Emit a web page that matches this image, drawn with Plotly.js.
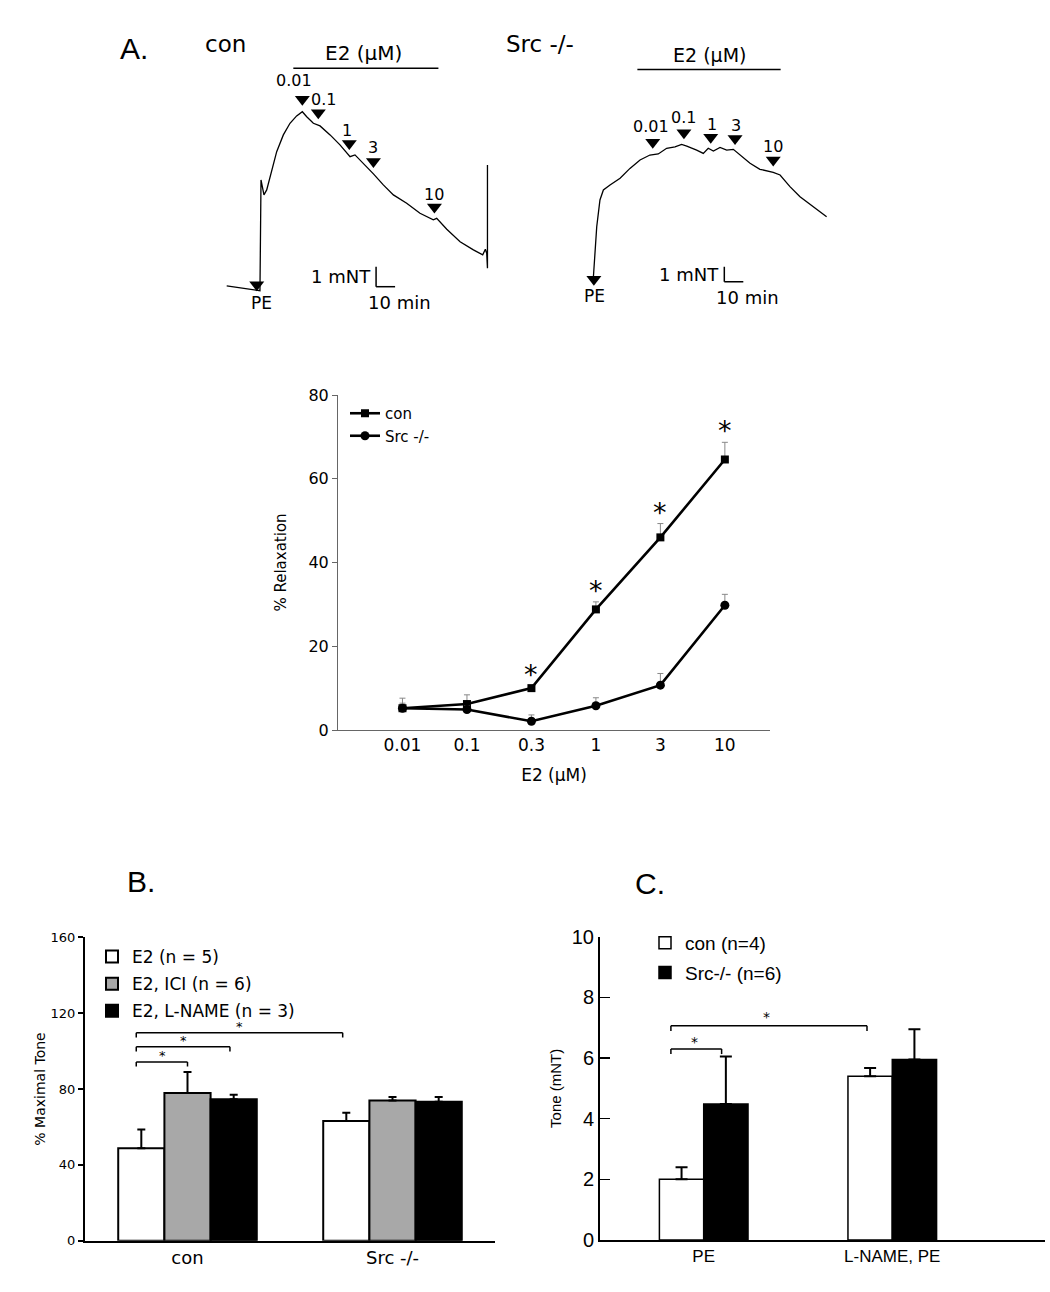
<!DOCTYPE html>
<html><head><meta charset="utf-8">
<script src="https://cdn.plot.ly/plotly-3.0.1.min.js"></script>
<style>html,body{margin:0;padding:0;background:#fff}#chart{width:1050px;height:1292px}</style>
</head><body><div id="chart"></div>
<script>
// ---------- Panel A: tension recordings (time in min, tension in mN) ----------
const conTime    = [0, 7.0, 15.8, 17.5, 18.05, 18.7, 19.6, 21.05, 23.7, 26.3, 29.8, 33.3, 36.8, 39.8, 42.1, 45.6, 49.1, 54.4, 59.6, 64.9, 67.5, 71.9, 77.2, 82.4, 87.7, 94.7, 101.7, 108.7, 110.5, 115.8, 122.8, 129.8, 134.7, 136.1, 136.8, 137.2, 137.2];
const conTension = [0.24, 0.15, 0, 0, 5.54, 5.2, 4.79, 5.04, 6.04, 6.95, 7.79, 8.37, 8.74, 8.95, 8.7, 8.37, 8.24, 7.79, 7.29, 6.7, 6.79, 6.37, 5.84, 5.29, 4.79, 4.37, 3.87, 3.54, 3.62, 3.07, 2.45, 2.04, 1.79, 2.07, 1.87, 1.12, 6.29];
const srcTime    = [0, 0.5, 1.8, 3.5, 5.3, 8.8, 14.1, 19.3, 24.6, 29.8, 34.2, 38.6, 43.0, 46.5, 49.2, 54.4, 57.9, 60.5, 63.2, 66.7, 70.2, 73.7, 77.2, 82.5, 87.7, 94.7, 98.3, 103.5, 108.8, 115.8, 122.8];
const srcTension = [0, 1.22, 3.44, 5.22, 5.89, 6.22, 6.67, 7.33, 7.89, 8.22, 8.29, 8.67, 8.77, 8.93, 8.82, 8.55, 8.33, 8.67, 8.49, 8.73, 8.55, 8.6, 8.22, 7.67, 7.27, 7.07, 6.89, 6.11, 5.44, 4.77, 4.11];
const doseLabels   = ['0.01', '0.1', '1', '3', '10'];
const conDoseTimes = [39.8, 48.2, 64.5, 77.2, 109.3];
const srcDoseTimes = [31.3, 47.7, 61.8, 74.6, 94.7];
const conPETime = 15.8, srcPETime = 0.3;
const conE2Period = [35.05, 111.4];
const srcE2Period = [23.2, 98.6];

// ---------- Concentration-response ----------
const e2Conc      = ['0.01', '0.1', '0.3', '1', '3', '10'];
const conRelax    = [5.2, 6.2, 10.0, 28.8, 46.0, 64.6];
const conRelaxErr = [2.4, 2.2, 0.5, 1.8, 3.3, 4.1];
const srcRelax    = [5.2, 4.9, 2.1, 5.8, 10.7, 29.8];
const srcRelaxErr = [1.2, 0.8, 1.5, 1.9, 2.8, 2.6];
const sigConc     = ['0.3', '1', '3', '10'];

// ---------- Panel B ----------
const groupsB     = ['con', 'Src -/-'];
const e2Tone      = [48.7, 63.1];
const e2ToneErr   = [10.0, 4.4];
const iciTone     = [77.9, 73.9];
const iciToneErr  = [11.0, 1.9];
const lnameTone   = [74.6, 73.3];
const lnameToneErr= [2.4, 2.5];

// ---------- Panel C ----------
const groupsC   = ['PE', 'L-NAME, PE'];
const conTone   = [2.0, 5.4];
const conToneErr= [0.4, 0.27];
const srcTone   = [4.48, 5.95];
const srcToneErr= [1.57, 1.0];

// ---------- helpers ----------
const W = 1050, H = 1292;
const px = x => x / W;
const py = y => 1 - y / H;
function interp(ts, vs, t) {
  for (let i = 1; i < ts.length; i++) {
    if (ts[i] >= t) { const d = ts[i] - ts[i-1]; const f = d === 0 ? 1 : (t - ts[i-1]) / d; return vs[i-1] + f * (vs[i] - vs[i-1]); }
  }
  return vs[vs.length - 1];
}
const zeros = a => a.map(() => 0);
const BLK = '#000';

const data = [];
const shapes = [];
const ann = [];
const F = (size, fam) => ({family: fam || 'DejaVu Sans', size: size, color: BLK});

// recordings
data.push({x: conTime, y: conTension, xaxis: 'x', yaxis: 'y', mode: 'lines', line: {color: BLK, width: 1.3}, showlegend: false, hoverinfo: 'skip'});
data.push({x: srcTime, y: srcTension, xaxis: 'x2', yaxis: 'y2', mode: 'lines', line: {color: BLK, width: 1.3}, showlegend: false, hoverinfo: 'skip'});

function doseMarks(xr, yr, times, ts, vs, off, labels, dx, dy, size) {
  const ys = times.map(t => interp(ts, vs, t) + off);
  data.push({x: times, y: ys, xaxis: xr, yaxis: yr, mode: 'markers', marker: {symbol: 'triangle-down', size: 13, color: BLK}, showlegend: false, hoverinfo: 'skip'});
  times.forEach((t, i) => ann.push({xref: xr, yref: yr, x: t, y: ys[i], xanchor: 'center', yanchor: 'middle', xshift: dx[i], yshift: dy[i],
    text: labels[i], showarrow: false, font: F(size)}));
}
doseMarks('x', 'y', conDoseTimes, conTime, conTension, 0.62, doseLabels, [-8, 5, -2, 0, 0], [19, 13, 13, 14, 12], 16);
doseMarks('x2', 'y2', srcDoseTimes, srcTime, srcTension, 0.82, doseLabels, [-2, 0, 1, 1, 0], [16, 15, 13, 13, 13], 16);
doseMarks('x', 'y', [conPETime], conTime, conTension, 0.3, ['PE'], [5], [-18], 17);
doseMarks('x2', 'y2', [srcPETime], srcTime, srcTension, -0.8, ['PE'], [1], [-17], 17);

// concentration-response
data.push({x: e2Conc, y: conRelax, name: 'con', xaxis: 'x3', yaxis: 'y3', mode: 'lines+markers',
  line: {color: BLK, width: 2.6}, marker: {symbol: 'square', size: 8, color: BLK},
  error_y: {type: 'data', symmetric: false, array: conRelaxErr, arrayminus: zeros(conRelaxErr), color: '#888', thickness: 1, width: 3}, legend: 'legend'});
data.push({x: e2Conc, y: srcRelax, name: 'Src -/-', xaxis: 'x3', yaxis: 'y3', mode: 'lines+markers',
  line: {color: BLK, width: 2.6}, marker: {symbol: 'circle', size: 9, color: BLK},
  error_y: {type: 'data', symmetric: false, array: srcRelaxErr, arrayminus: zeros(srcRelaxErr), color: '#888', thickness: 1, width: 3}, legend: 'legend'});

// Panel B bars
const bw = 0.2253;
[[e2Tone, e2ToneErr, 'E2 (n = 5)', '#ffffff'], [iciTone, iciToneErr, 'E2, ICI (n = 6)', '#a8a8a8'], [lnameTone, lnameToneErr, 'E2, L-NAME (n = 3)', '#000000']]
.forEach(([v, e, nm, c], i) => {
  data.push({type: 'bar', x: groupsB, y: v, name: nm, xaxis: 'x4', yaxis: 'y4', width: bw, offset: -1.5 * bw + i * bw,
    marker: {color: c, line: {color: BLK, width: 2}}, legendgroup: 'b' + i,
    error_y: {type: 'data', symmetric: false, array: e, arrayminus: zeros(e), color: BLK, thickness: 2, width: 4}, legend: 'legend2'});
});
// Panel C bars
const cw = 0.235;
[[conTone, conToneErr, 'con (n=4)', '#ffffff'], [srcTone, srcToneErr, 'Src-/- (n=6)', '#000000']]
.forEach(([v, e, nm, c], i) => {
  data.push({type: 'bar', x: groupsC, y: v, name: nm, xaxis: 'x5', yaxis: 'y5', width: cw, offset: -cw + i * cw,
    marker: {color: c, line: {color: BLK, width: 1.5}}, legendgroup: 'c' + i,
    error_y: {type: 'data', symmetric: false, array: e, arrayminus: zeros(e), color: BLK, thickness: 2, width: 6}, legend: 'legend3'});
});

// ---------- shapes & annotations ----------
function txt(x, y, text, font) { ann.push({x: px(x), y: py(y), xref: 'paper', yref: 'paper', xanchor: 'center', yanchor: 'middle', text: text, showarrow: false, font: font}); }
function seg(xref, yref, x0, y0, x1, y1, w) { shapes.push({type: 'line', xref: xref, yref: yref, x0: x0, y0: y0, x1: x1, y1: y1, line: {color: BLK, width: w}}); }

txt(134, 49, 'A.', F(30, 'Liberation Sans'));
txt(141, 881, 'B.', F(30, 'Liberation Sans'));
txt(650, 883, 'C.', F(30, 'Liberation Sans'));
txt(225, 44, 'con', F(23));
txt(540, 44, 'Src -/-', F(23));

// E2 exposure bars
seg('x', 'y', conE2Period[0], 11.12, conE2Period[1], 11.12, 1.5);
ann.push({xref: 'x', yref: 'y', x: (conE2Period[0] + conE2Period[1]) / 2, y: 11.12, yanchor: 'middle', xshift: -2, yshift: 15, text: 'E2 (μM)', showarrow: false, font: F(20)});
seg('x2', 'y2', srcE2Period[0], 13.93, srcE2Period[1], 13.93, 1.5);
ann.push({xref: 'x2', yref: 'y2', x: (srcE2Period[0] + srcE2Period[1]) / 2, y: 13.93, yanchor: 'middle', yshift: 14, text: 'E2 (μM)', showarrow: false, font: F(19)});

// scale bars: 1 mN x 10 min
function scaleBar(xr, yr, t0, T0) {
  seg(xr, yr, t0, T0, t0, T0 + 1, 1.5);
  seg(xr, yr, t0, T0, t0 + 10, T0, 1.5);
  ann.push({xref: xr, yref: yr, x: t0, y: T0 + 0.5, xanchor: 'right', yanchor: 'middle', xshift: -3, text: '1 mNT', showarrow: false, font: F(18)});
  ann.push({xref: xr, yref: yr, x: t0 + 5, y: T0, yanchor: 'top', xshift: 14, yshift: -3, text: '10 min', showarrow: false, font: F(18)});
}
scaleBar('x', 'y', 78.6, 0.2);
scaleBar('x2', 'y2', 68.95, -0.23);

// significance asterisks on concentration-response
sigConc.forEach(c => {
  const i = e2Conc.indexOf(c);
  ann.push({xref: 'x3', yref: 'y3', x: i, y: conRelax[i] + conRelaxErr[i], yanchor: 'bottom', yshift: -6, text: '*', showarrow: false, font: F(27)});
});

// brackets
function bracket(xr, yr, x0, x1, y, drop, starX, size, ys) {
  seg(xr, yr, x0, y, x1, y, 1.5);
  seg(xr, yr, x0, y, x0, y - drop, 1.5);
  seg(xr, yr, x1, y, x1, y - drop, 1.5);
  ann.push({xref: xr, yref: yr, x: starX, y: y, yanchor: 'bottom', yshift: ys, text: '*', showarrow: false, font: F(size)});
}
bracket('x4', 'y4', -0.25, 0.0, 94.3, 2.5, -0.12, 13, -3);
bracket('x4', 'y4', -0.25, 0.207, 102.3, 2.5, -0.02, 13, -3);
bracket('x4', 'y4', -0.25, 0.757, 109.7, 2.5, 0.255, 13, -3);
bracket('x5', 'y5', -0.174, 0.095, 6.3, 0.17, -0.05, 14, -3);
bracket('x5', 'y5', -0.174, 0.866, 7.06, 0.17, 0.335, 14, -1);

const hidden = {visible: false, showgrid: false, zeroline: false, fixedrange: true};
const layout = {
  width: W, height: H, margin: {l: 0, r: 0, t: 0, b: 0},
  paper_bgcolor: '#fff', plot_bgcolor: 'rgba(0,0,0,0)',
  font: {family: 'DejaVu Sans', color: BLK},
  showlegend: true, hovermode: false, barmode: 'overlay',
  xaxis:  Object.assign({domain: [px(200), px(500)], range: [-14.05, 143.8], anchor: 'y'}, hidden),
  yaxis:  Object.assign({domain: [py(320), py(40)], range: [-1.465, 12.535], anchor: 'x'}, hidden),
  xaxis2: Object.assign({domain: [px(560), px(860)], range: [-17.53, 140.37], anchor: 'y2'}, hidden),
  yaxis2: Object.assign({domain: [py(320), py(40)], range: [-2.78, 15.89], anchor: 'x2'}, hidden),
  xaxis3: {domain: [px(338), px(770)], anchor: 'y3', type: 'category', range: [-1, 5.7], showline: true, linecolor: '#666', linewidth: 1,
    ticks: '', showgrid: false, zeroline: false, tickfont: F(17),
    title: {text: 'E2 (μM)', font: F(17), standoff: 14}},
  yaxis3: {domain: [py(730), py(395)], anchor: 'x3', range: [0, 80], dtick: 20, showline: true, linecolor: '#666', linewidth: 1,
    ticks: 'outside', ticklen: 5, tickcolor: '#666', showgrid: false, zeroline: false, tickfont: F(16),
    title: {text: '% Relaxation', font: F(15), standoff: 18}},
  xaxis4: {domain: [px(85), px(495)], anchor: 'y4', type: 'category', range: [-0.5, 1.5], showline: true, linecolor: BLK, linewidth: 2,
    ticks: '', showgrid: false, zeroline: false, tickfont: F(18)},
  yaxis4: {domain: [py(1240.7), py(937.3)], anchor: 'x4', range: [0, 160], dtick: 40, showline: true, linecolor: BLK, linewidth: 2,
    ticks: 'outside', ticklen: 5, tickwidth: 2, tickcolor: BLK, showgrid: false, zeroline: false, tickfont: F(13),
    title: {text: '% Maximal Tone', font: F(14), standoff: 2}},
  xaxis5: {domain: [px(600), px(1045)], anchor: 'y5', type: 'category', range: [-0.55, 1.81], showline: true, linecolor: BLK, linewidth: 2,
    ticks: '', showgrid: false, zeroline: false, tickfont: F(17, 'Liberation Sans')},
  yaxis5: {domain: [py(1240), py(936.7)], anchor: 'x5', range: [0, 10], dtick: 2, showline: true, linecolor: BLK, linewidth: 2,
    ticks: 'inside', ticklen: 10, tickwidth: 1.5, tickcolor: BLK, showgrid: false, zeroline: false, tickfont: F(20, 'Liberation Sans'),
    title: {text: 'Tone (mNT)', font: F(15, 'Liberation Sans'), standoff: 6}},
  legend:  {x: px(345), y: py(397), xanchor: 'left', yanchor: 'top', bgcolor: 'rgba(0,0,0,0)', font: F(15), itemwidth: 30, tracegroupgap: 0},
  legend2: {x: px(92), y: py(939), xanchor: 'left', yanchor: 'top', bgcolor: 'rgba(0,0,0,0)', font: F(17), itemwidth: 30, tracegroupgap: 2, traceorder: 'grouped'},
  legend3: {x: px(645), y: py(924), xanchor: 'left', yanchor: 'top', bgcolor: 'rgba(0,0,0,0)', font: F(19, 'Liberation Sans'), itemwidth: 30, tracegroupgap: 2, traceorder: 'grouped'},
  shapes: shapes, annotations: ann
};
Plotly.newPlot('chart', data, layout, {staticPlot: true, displayModeBar: false});
</script></body></html>
